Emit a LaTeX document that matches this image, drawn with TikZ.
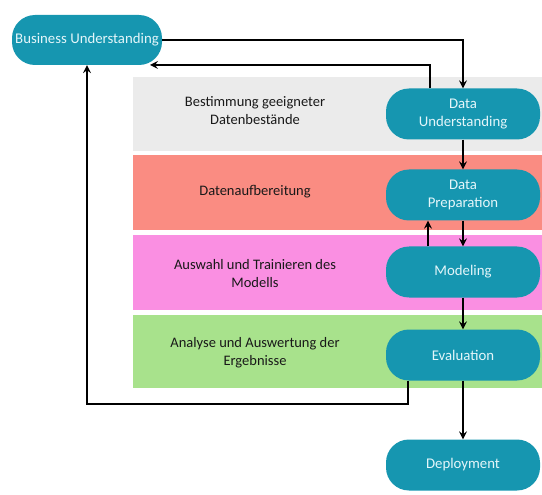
\documentclass[tikz,border=0pt]{standalone}
\usepackage{fontspec}
\setmainfont{Carlito}
\usepackage{tikz}
\usetikzlibrary{arrows,shapes,positioning}
\usepackage{xcolor}
\definecolor{crteal}{RGB}{22,150,176}
\definecolor{crtext}{RGB}{228,246,250}
\definecolor{crgray}{RGB}{235,235,235}
\definecolor{crred}{RGB}{250,140,130}
\definecolor{crpink}{RGB}{250,143,226}
\definecolor{crgreen}{RGB}{168,226,140}
\tikzstyle{arrow} = [line width=2.4pt,->,>=stealth,color=black]
\tikzstyle{phase} = [rectangle, rounded corners=23pt, minimum width=154pt, minimum height=51pt, align=center, fill=crteal, text=crtext, font=\fontsize{14.8}{18}\selectfont]
\tikzstyle{band} = [rectangle, minimum width=409pt, minimum height=74pt, inner sep=0pt]
\tikzstyle{bandtext} = [align=center, text=black!90, font=\fontsize{14.5}{18}\selectfont]

\begin{document}
\begin{tikzpicture}[x=1pt, y=-1pt]
\useasboundingbox (0,0) rectangle (542,495);
% Colour bands
\node (b1) [band, fill=crgray] at (337.5,114) {};
\node (b2) [band, fill=crred, minimum height=75pt] at (337.5,192.5) {};
\node (b3) [band, fill=crpink, minimum height=75pt] at (337.5,272.5) {};
\node (b4) [band, fill=crgreen, minimum height=73pt] at (337.5,351.5) {};
\node (t1) [bandtext] at (255,111) {Bestimmung geeigneter\\Datenbestände};
\node (t2) [bandtext] at (255,192) {Datenaufbereitung};
\node (t3) [bandtext] at (255,274) {Auswahl und Trainieren des\\Modells};
\node (t4) [bandtext] at (255,353) {Analyse und Auswertung der\\Ergebnisse};

% Phases
\node (bu) [phase, minimum width=150pt, minimum height=50pt, inner xsep=2pt] at (87,40) {Business Understanding};
\node (du) [phase] at (463,114) {Data\\Understanding};
\node (dp) [phase, below of=du, node distance=81pt] {Data\\Preparation};
\node (mo) [phase, below of=dp, node distance=77pt] {Modeling};
\node (ev) [phase, below of=mo, node distance=83pt] {Evaluation};
\node (de) [phase, below of=ev, node distance=110pt] {Deployment};
\coordinate (buin) at (150,65);

% Connections
\draw[arrow] (bu.east) -| (du.north);
\draw[arrow] ([xshift=-33pt]du.north) |- (buin);
\draw[arrow] (du) -- (dp);
\draw[arrow] (dp) -- (mo);
\draw[arrow] ([xshift=-35pt]mo.north) -- ([xshift=-35pt]dp.south);
\draw[arrow] (mo) -- (ev);
\draw[arrow] ([xshift=-55pt]ev.south) -- ++(0,23) -| (bu.south);
\draw[arrow] (ev) -- (de);
\end{tikzpicture}
\end{document}
